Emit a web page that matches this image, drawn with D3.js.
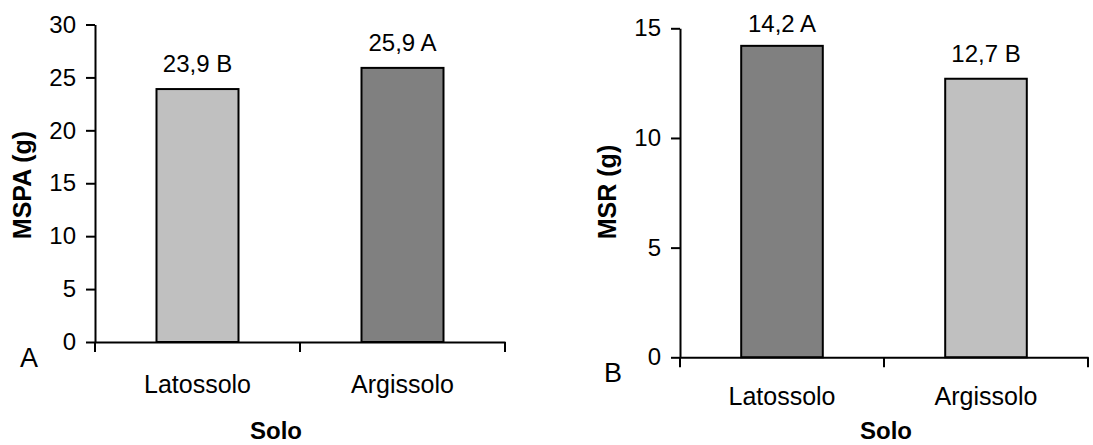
<!DOCTYPE html>
<html>
<head>
<meta charset="utf-8">
<script src="https://cdn.jsdelivr.net/npm/d3@7"></script>
<style>
  html, body { margin: 0; padding: 0; background: #fff; }
  svg { display: block; }
  text { font-family: "Liberation Sans", Arial, sans-serif; fill: #000; }
</style>
</head>
<body>
<svg id="chart" width="1093" height="445"></svg>
<script>
// ---- data ----
const categories = ["Latossolo", "Argissolo"];
const mspaValues = [23.9, 25.9];
const mspaLetters = ["B", "A"];
const msrValues = [14.2, 12.7];
const msrLetters = ["A", "B"];
const mspaTicks = [0, 5, 10, 15, 20, 25, 30];
const msrTicks = [0, 5, 10, 15];
const mspaColors = ["#C0C0C0", "#808080"];
const msrColors = ["#808080", "#C0C0C0"];

const svg = d3.select("#chart");

function panel(opts) {
  const g = svg.append("g");
  const x = d3.scaleBand().domain(categories)
    .range([opts.x0, opts.x1]).paddingInner(0.6).paddingOuter(0.3);
  const y = d3.scaleLinear().domain([0, opts.max]).range([opts.yZero, opts.yTop]);

  // bars
  g.selectAll("rect.bar").data(opts.values).enter().append("rect")
    .attr("class", "bar")
    .attr("x", (d, i) => x(categories[i]))
    .attr("y", d => y(d))
    .attr("width", x.bandwidth())
    .attr("height", d => y(0) - y(d))
    .attr("fill", (d, i) => opts.colors[i])
    .attr("stroke", "#000")
    .attr("stroke-width", 2);

  // value labels
  g.selectAll("text.val").data(opts.values).enter().append("text")
    .attr("class", "val")
    .attr("x", (d, i) => x(categories[i]) + x.bandwidth() / 2)
    .attr("y", d => Math.max(y(d) - 17, 32))
    .attr("text-anchor", "middle")
    .style("font-size", "24px")
    .text((d, i) => d.toFixed(1).replace(".", ",") + " " + opts.letters[i]);

  // y axis
  const ya = g.append("g").attr("transform", `translate(${opts.x0},0)`)
    .call(d3.axisLeft(y).tickValues(opts.ticks).tickSize(9).tickSizeOuter(0).tickPadding(10));
  ya.select(".domain").attr("stroke", "#000").attr("stroke-width", 2);
  ya.selectAll(".tick line").attr("stroke", "#000").attr("stroke-width", 2);
  ya.selectAll(".tick text").style("font-size", "24px").style("font-family", "Liberation Sans, Arial, sans-serif");

  // x axis: labels at band centres, ticks at band boundaries
  const xa = g.append("g").attr("transform", `translate(0,${opts.yZero})`)
    .call(d3.axisBottom(x).tickSize(0).tickPadding(opts.labelPad));
  xa.select(".domain").attr("stroke", "#000").attr("stroke-width", 2);
  xa.selectAll(".tick text").style("font-size", "25px").style("font-family", "Liberation Sans, Arial, sans-serif");
  const bounds = [opts.x0, (opts.x0 + opts.x1) / 2, opts.x1];
  xa.selectAll("line.bound").data(bounds).enter().append("line")
    .attr("class", "bound")
    .attr("x1", d => d).attr("x2", d => d)
    .attr("y1", 0).attr("y2", 10)
    .attr("stroke", "#000").attr("stroke-width", 2);

  // axis titles
  g.append("text")
    .attr("transform", `translate(${opts.yTitleX},${opts.yTitleY}) rotate(-90)`)
    .attr("text-anchor", "middle")
    .style("font-size", "25px").style("font-weight", "bold")
    .text(opts.yTitle);
  g.append("text")
    .attr("x", opts.xTitleX).attr("y", 439)
    .attr("text-anchor", "middle")
    .style("font-size", "24px").style("font-weight", "bold")
    .text("Solo");

  // panel letter
  g.append("text")
    .attr("x", opts.letterX).attr("y", opts.letterY)
    .style("font-size", "27px")
    .text(opts.panelLetter);
}

panel({
  values: mspaValues, letters: mspaLetters, colors: mspaColors, ticks: mspaTicks,
  max: 30, x0: 95, x1: 505, yZero: 342, yTop: 24.5, labelPad: 33,
  yTitle: "MSPA (g)", yTitleX: 31, yTitleY: 185, xTitleX: 276,
  panelLetter: "A", letterX: 20, letterY: 367
});
panel({
  values: msrValues, letters: msrLetters, colors: msrColors, ticks: msrTicks,
  max: 15, x0: 680, x1: 1088, yZero: 357.3, yTop: 28.3, labelPad: 30,
  yTitle: "MSR (g)", yTitleX: 616, yTitleY: 192, xTitleX: 886,
  panelLetter: "B", letterX: 604, letterY: 382
});
</script>
</body>
</html>
